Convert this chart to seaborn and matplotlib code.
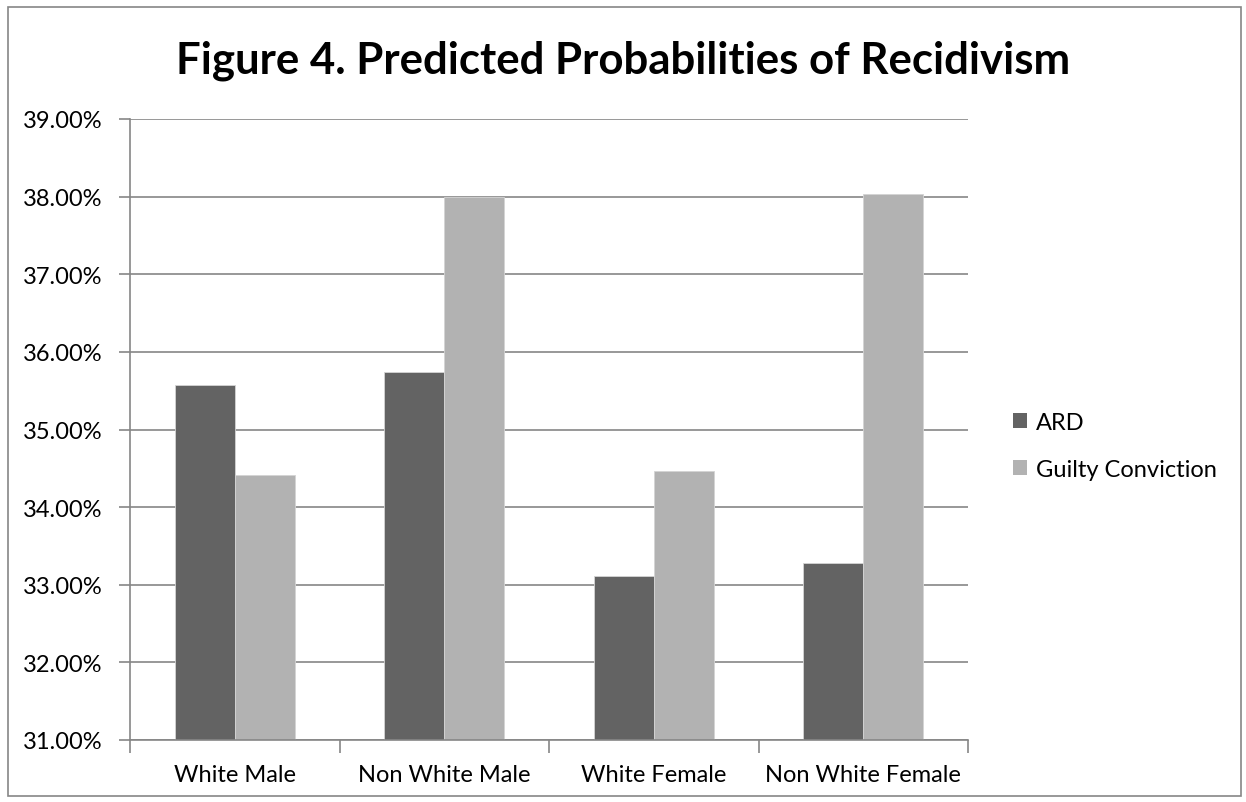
import matplotlib
matplotlib.use("Agg")
import matplotlib.pyplot as plt
import matplotlib.patches as mpatches
from matplotlib.ticker import FuncFormatter
import pandas as pd
import seaborn as sns

# Predicted probability of recidivism (%) by group and disposition
groups = ["White Male", "Non White Male", "White Female", "Non White Female"]
ard = [35.57, 35.74, 33.11, 33.28]
guilty = [34.41, 38.00, 34.46, 38.04]
series_names = ["ARD", "Guilty Conviction"]
y_ticks = [31, 32, 33, 34, 35, 36, 37, 38, 39]

df = pd.DataFrame({
    "group": groups * 2,
    "series": [series_names[0]] * len(groups) + [series_names[1]] * len(groups),
    "value": ard + guilty,
})

sns.set_theme(style="white")
plt.rcParams["font.family"] = ["Lato", "DejaVu Sans"]
plt.rcParams["text.color"] = "black"

grid_c = "#868686"
bar_colors = ["#636363", "#b2b2b2"]
fig = plt.figure(figsize=(12.46, 8.03), dpi=100)
ax = fig.add_axes([130 / 1246, 62 / 803, 838 / 1246, 621 / 803])

sns.barplot(data=df, x="group", y="value", hue="series", order=groups,
            hue_order=series_names, palette=bar_colors,
            width=0.571, gap=0, edgecolor="#d4d4d4", linewidth=0.6,
            saturation=1, ax=ax, legend=False, zorder=3)

ax.set_ylim(y_ticks[0], y_ticks[-1])
ax.set_xlim(-0.5, len(groups) - 0.5)
ax.set_yticks(y_ticks)
ax.yaxis.set_major_formatter(FuncFormatter(lambda v, _: f"{v:.2f}%"))
ax.set_xlabel("")
ax.set_ylabel("")

ax.yaxis.grid(True, color=grid_c, linewidth=1.2, zorder=0)
ax.set_axisbelow(True)
for side in ("top", "right"):
    ax.spines[side].set_visible(False)
for side in ("left", "bottom"):
    ax.spines[side].set_color(grid_c)
    ax.spines[side].set_linewidth(1.2)
    ax.spines[side].set_zorder(4)

ax.tick_params(axis="y", which="major", left=True, length=8, width=1.2,
               color=grid_c, labelsize=17, labelcolor="black", pad=12)
ax.tick_params(axis="x", which="major", bottom=False, length=0,
               labelsize=17, labelcolor="black", pad=17)
ax.set_xticks([i - 0.5 for i in range(len(groups) + 1)], minor=True)
ax.tick_params(axis="x", which="minor", bottom=True, length=9, width=1.2,
               color=grid_c)

fig.text(0.5, 0.924, "Figure 4. Predicted Probabilities of Recidivism",
         ha="center", va="center", fontsize=31.5, fontweight="bold",
         color="black")

handles = [mpatches.Patch(facecolor=c, edgecolor="none") for c in bar_colors]
fig.legend(handles, series_names, loc="center left",
           bbox_to_anchor=(1001 / 1246, 0.443), frameon=False,
           fontsize=17, handlelength=0.6, handleheight=0.6,
           handletextpad=0.4, labelspacing=1.1, borderpad=0,
           labelcolor="black")

fig.patches.append(mpatches.Rectangle(
    (8 / 1246, 6 / 803), 1233 / 1246, 789 / 803, transform=fig.transFigure,
    fill=False, edgecolor=grid_c, linewidth=1.2))

fig.savefig("out.png", dpi=100)
